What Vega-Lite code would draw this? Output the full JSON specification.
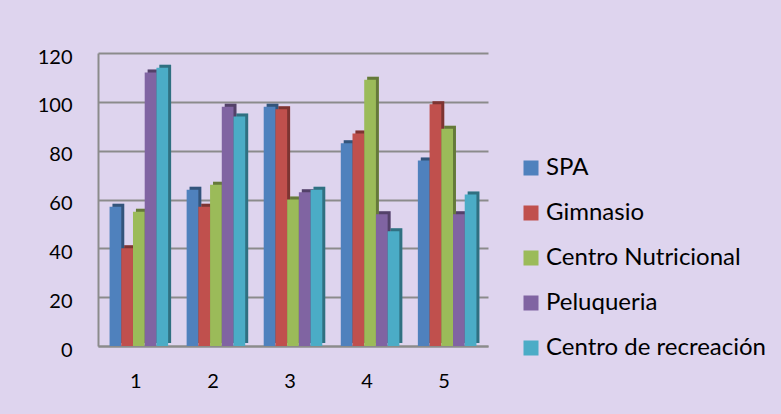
{
  "$schema": "https://vega.github.io/schema/vega-lite/v6.json",
  "width": 390,
  "height": 293,
  "autosize": {"type": "none"},
  "padding": {"left": 98, "top": 53, "right": 293, "bottom": 68},
  "background": "#DED4EE",
  "config": {
    "view": {"stroke": null},
    "font": "Lato",
    "axis": {"labelFont": "Lato", "labelFontSize": 20, "labelColor": "#000000", "ticks": false, "title": null}
  },
  "data": {
    "values": [
      {"grupo": "1", "serie": "SPA", "valor": 57},
      {"grupo": "1", "serie": "Gimnasio", "valor": 40},
      {"grupo": "1", "serie": "Centro Nutricional", "valor": 55},
      {"grupo": "1", "serie": "Peluqueria", "valor": 112},
      {"grupo": "1", "serie": "Centro de recreación", "valor": 114},
      {"grupo": "2", "serie": "SPA", "valor": 64},
      {"grupo": "2", "serie": "Gimnasio", "valor": 57},
      {"grupo": "2", "serie": "Centro Nutricional", "valor": 66},
      {"grupo": "2", "serie": "Peluqueria", "valor": 98},
      {"grupo": "2", "serie": "Centro de recreación", "valor": 94},
      {"grupo": "3", "serie": "SPA", "valor": 98},
      {"grupo": "3", "serie": "Gimnasio", "valor": 97},
      {"grupo": "3", "serie": "Centro Nutricional", "valor": 60},
      {"grupo": "3", "serie": "Peluqueria", "valor": 63},
      {"grupo": "3", "serie": "Centro de recreación", "valor": 64},
      {"grupo": "4", "serie": "SPA", "valor": 83},
      {"grupo": "4", "serie": "Gimnasio", "valor": 87},
      {"grupo": "4", "serie": "Centro Nutricional", "valor": 109},
      {"grupo": "4", "serie": "Peluqueria", "valor": 54},
      {"grupo": "4", "serie": "Centro de recreación", "valor": 47},
      {"grupo": "5", "serie": "SPA", "valor": 76},
      {"grupo": "5", "serie": "Gimnasio", "valor": 99},
      {"grupo": "5", "serie": "Centro Nutricional", "valor": 89},
      {"grupo": "5", "serie": "Peluqueria", "valor": 54},
      {"grupo": "5", "serie": "Centro de recreación", "valor": 62}
    ]
  },
  "encoding": {
    "xOffset": {
      "field": "serie",
      "type": "nominal",
      "sort": ["SPA", "Gimnasio", "Centro Nutricional", "Peluqueria", "Centro de recreación"],
      "scale": {"paddingInner": 0, "paddingOuter": 0}
    },
    "y": {
      "field": "valor",
      "type": "quantitative",
      "scale": {"domain": [0, 120], "nice": false},
      "axis": {
        "values": [0, 20, 40, 60, 80, 100, 120],
        "labelPadding": 26,
        "grid": true,
        "gridColor": "#8B8B8B",
        "gridWidth": 2,
        "domainColor": "#8B8B8B",
        "domainWidth": 2,
        "labelOffset": 4
      }
    }
  },
  "layer": [
    {
      "mark": {"type": "bar", "yOffset": -3},
      "encoding": {
        "x": {
          "field": "grupo",
          "type": "nominal",
          "scale": {"paddingInner": 0.24, "paddingOuter": 0.15, "align": 0.628},
          "axis": null
        },
        "color": {
          "field": "serie",
          "type": "nominal",
          "sort": ["SPA", "Gimnasio", "Centro Nutricional", "Peluqueria", "Centro de recreación"],
          "scale": {
            "domain": ["SPA", "Gimnasio", "Centro Nutricional", "Peluqueria", "Centro de recreación"],
            "range": ["#4F81BD", "#C0504D", "#9BBB59", "#8064A2", "#4BACC6"]
          },
          "legend": {
            "title": null,
            "orient": "none",
            "legendX": 421,
            "legendY": 103,
            "symbolType": "square",
            "symbolSize": 225,
            "symbolStrokeWidth": 0,
            "symbolOpacity": 1,
            "labelFont": "Lato",
            "labelFontSize": 24,
            "labelColor": "#000000",
            "labelOffset": 3,
            "labelLimit": 0,
            "rowPadding": 21
          }
        }
      }
    },
    {
      "mark": {"type": "bar", "yOffset": -3, "color": "#000000", "opacity": 0.35},
      "encoding": {
        "x": {
          "field": "grupo",
          "type": "nominal",
          "scale": {"paddingInner": 0.24, "paddingOuter": 0.15, "align": 0.628},
          "axis": null
        }
      }
    },
    {
      "mark": {"type": "bar"},
      "encoding": {
        "x": {
          "field": "grupo",
          "type": "nominal",
          "scale": {"paddingInner": 0.24, "paddingOuter": 0.15},
          "axis": {"labelAngle": 0, "labelPadding": 25, "labelOffset": -3, "domainColor": "#8B8B8B", "domainWidth": 2}
        },
        "color": {"field": "serie", "type": "nominal", "sort": ["SPA", "Gimnasio", "Centro Nutricional", "Peluqueria", "Centro de recreación"]}
      }
    }
  ],
  "resolve": {"scale": {"x": "independent"}, "axis": {"x": "independent"}}
}
